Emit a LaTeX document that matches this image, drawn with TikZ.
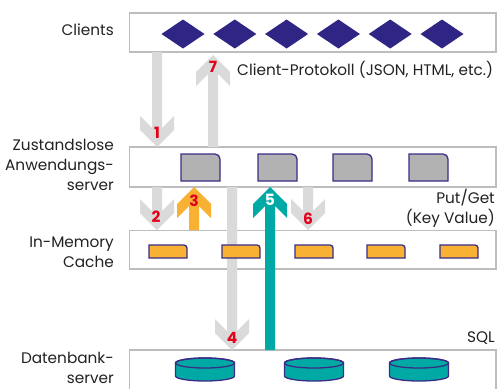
\documentclass[tikz,border=0pt]{standalone}
\usepackage{fontspec}
\setmainfont{Poppins}
\definecolor{navy}{HTML}{2E2585}
\definecolor{edgepurple}{HTML}{3A2D86}
\definecolor{tealc}{HTML}{00A9A4}
\definecolor{orangec}{HTML}{F9B134}
\definecolor{arrgray}{HTML}{DADADA}
\definecolor{numred}{HTML}{E2001A}
\definecolor{boxgray}{HTML}{BDBDBD}
\definecolor{srvgray}{HTML}{B2B2B2}
\definecolor{txt}{HTML}{222222}
\newcommand\fatarrow[4]{% colour, x, tail y, tip y
  \pgfmathsetmacro\sgn{(#4>#3) ? 1 : -1}
  \fill[#1] (#2-5,#3) -- (#2-5,#4-19*\sgn) -- (#2-17,#4-31*\sgn) -- (#2-17,#4-17*\sgn)
    -- (#2,#4) -- (#2+17,#4-17*\sgn) -- (#2+17,#4-31*\sgn) -- (#2+5,#4-19*\sgn)
    -- (#2+5,#3) -- cycle;
}
\begin{document}
\begin{tikzpicture}[x=1pt,y=-1pt,
  layerbox/.style={draw=boxgray, line width=1.4pt, fill=white, inner sep=0pt},
  lbl/.style={text=txt, font=\fontsize{15.3}{20.3}\selectfont, inner sep=0pt, align=right},
  num/.style={text=numred, font=\fontsize{15.5}{15.5}\selectfont\bfseries, inner sep=0pt},
  icon/.style={draw=edgepurple, line width=1.3pt}
]
\useasboundingbox (0,0) rectangle (502,388);
\fill[white] (0,0) rectangle (502,388);

% layer boxes
\node[layerbox, minimum width=366.5pt, minimum height=39pt] (clients) at (312.75,32.5) {};
\node[layerbox, minimum width=366.5pt, minimum height=40pt] (app) at (312.75,167) {};
\node[layerbox, minimum width=366.5pt, minimum height=38.5pt] (cache) at (312.75,249.75) {};
\node[layerbox, minimum width=366.5pt, minimum height=60pt] (db) at (312.75,380) {};

% layer labels
\node[lbl, anchor=east] (lclients) at (114,30) {Clients};
\node[lbl, anchor=east] (lapp) at (114,165) {Zustandslose\\Anwendungs-\\server};
\node[lbl, anchor=east] (lcache) at (114,252) {In-Memory\\Cache};
\node[lbl, anchor=east] (ldb) at (114,368) {Datenbank-\\server};
\node[lbl, anchor=west] (lproto) at (237,70) {Client-Protokoll (JSON, HTML, etc.)};
\node[lbl, anchor=east] (lput) at (495,208.5) {Put/Get\\(Key Value)};
\node[lbl, anchor=east] (lsql) at (495,338) {SQL};

% fat arrows
\fatarrow{arrgray}{157}{52}{147}
\fatarrow{arrgray}{213}{147}{55}
\fatarrow{arrgray}{157}{187}{230}
\fatarrow{orangec}{194}{230}{187}
\fatarrow{arrgray}{232}{187}{350}
\fatarrow{tealc}{270}{350}{187}
\fatarrow{arrgray}{308}{187}{230}

% step numbers
\node[num] (n1) at (157,133) {1};
\node[num] (n7) at (213,67) {7};
\node[num] (n2) at (156,217) {2};
\node[num] (n3) at (194,201) {3};
\node[num] (n4) at (232,338) {4};
\node[num, text=white] (n5) at (270,200) {5};
\node[num] (n6) at (308,219) {6};

% client diamonds
\foreach \i in {0,...,5} {
  \pgfmathsetmacro\cx{183+51.8*\i}
  \fill[navy] (\cx,19.5) -- (\cx+21.5,34) -- (\cx,48.5) -- (\cx-21.5,34) -- cycle;
}

% server icons
\foreach \sx in {181,258,333,409} {
  \filldraw[icon, fill=srvgray] (\sx,181) -- (\sx,154) -- (\sx+34,154)
    arc[start angle=-90, end angle=0, radius=5] -- (\sx+39,181) -- cycle;
}

% cache entries
\foreach \kx in {149,222,295,367,440} {
  \filldraw[icon, fill=orangec] (\kx,258) -- (\kx,245) -- (\kx+35,245)
    arc[start angle=-90, end angle=0, radius=3] -- (\kx+38,258) -- cycle;
}

% database cylinders
\foreach \dx in {205,314,419} {
  \filldraw[icon, fill=tealc] (\dx-29.5,363) -- (\dx-29.5,376)
    arc[start angle=180, end angle=0, x radius=29.5, y radius=5]
    -- (\dx+29.5,363)
    arc[start angle=0, end angle=-180, x radius=29.5, y radius=5] -- cycle;
  \draw[icon] (\dx,363) ellipse[x radius=29.5, y radius=5];
}
\end{tikzpicture}
\end{document}
